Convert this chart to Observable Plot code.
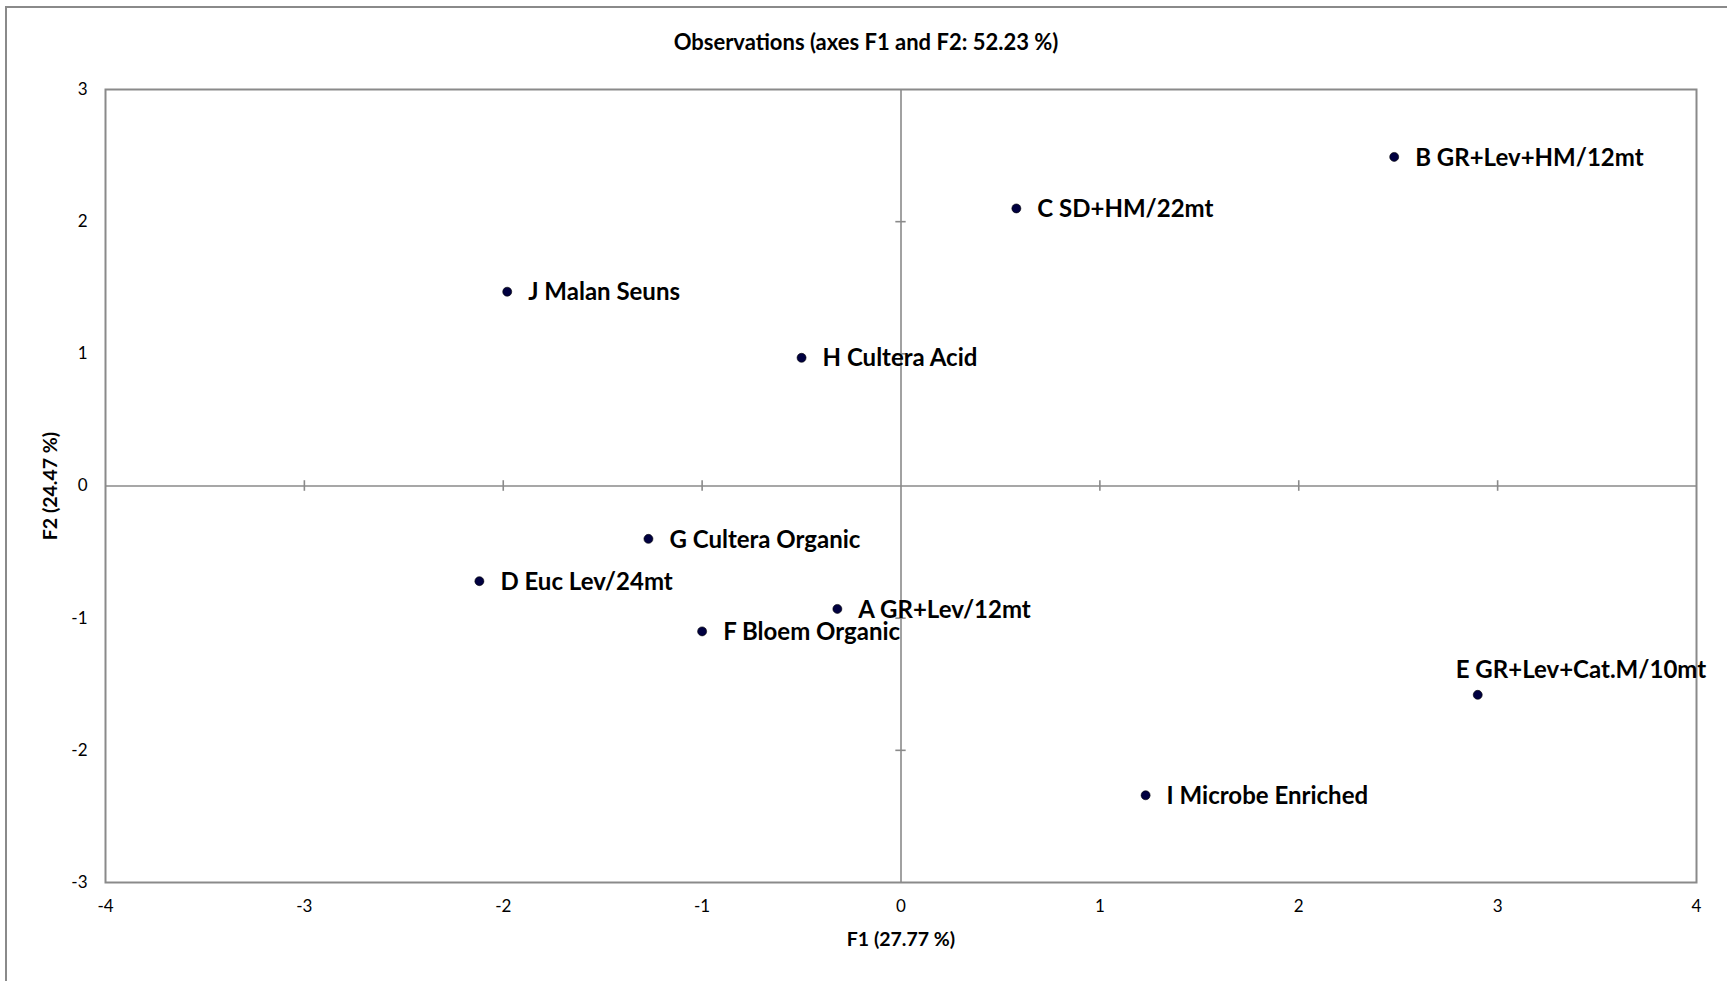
<!DOCTYPE html>
<html>
<head>
<meta charset="utf-8">
<script src="https://cdn.jsdelivr.net/npm/d3@7"></script>
<script src="https://cdn.jsdelivr.net/npm/@observablehq/plot@0.6"></script>
<style>
  html, body { margin: 0; padding: 0; background: #fff; overflow: hidden; }
  #page { position: relative; width: 1727px; height: 981px; }
  #border {
    position: absolute; left: 5px; top: 6px; width: 1900px; height: 1100px;
    border-left: 2px solid #8a8a8a; border-top: 2px solid #8a8a8a;
  }
  #title {
    position: absolute; left: 5px; top: 29px; width: 1722px; height: 26px;
    line-height: 26px; text-align: center;
    font-family: Lato, "Open Sans", sans-serif; font-weight: bold; font-size: 22px; color: #000;
  }
  #chart { position: absolute; left: 0; top: 70px; }
</style>
</head>
<body>
<div id="page">
  <div id="border"></div>
  <div id="title">Observations (axes F1 and F2: 52.23 %)</div>
  <div id="chart"></div>
</div>
<script>
// PCA observation scores on the first two factors
const names = [
  "A GR+Lev/12mt",
  "B GR+Lev+HM/12mt",
  "C SD+HM/22mt",
  "D Euc Lev/24mt",
  "E GR+Lev+Cat.M/10mt",
  "F Bloem Organic",
  "G Cultera Organic",
  "H Cultera Acid",
  "I Microbe Enriched",
  "J Malan Seuns"
];
const f1 = [-0.32, 2.48, 0.58, -2.12, 2.90, -1.00, -1.27, -0.50, 1.23, -1.98];
const f2 = [-0.93, 2.49, 2.10, -0.72, -1.58, -1.10, -0.40, 0.97, -2.34, 1.47];

const xTicks = [-4, -3, -2, -1, 0, 1, 2, 3, 4];
const yTicks = [-3, -2, -1, 0, 1, 2, 3];

const obs = names.map((name, i) => ({name, f1: f1[i], f2: f2[i]}));

// the one label drawn above its point instead of to its right
const aboveLabels = new Set(["E GR+Lev+Cat.M/10mt"]);

const axisGray = "#8a8a8a";
const labelFont = "Lato, 'Open Sans', sans-serif";

const chart = Plot.plot({
  width: 1727,
  height: 911,
  marginLeft: 105,
  marginRight: 31,
  marginTop: 19,
  marginBottom: 99,
  style: {fontFamily: labelFont, fontSize: "17px", color: "#000", background: "transparent"},
  x: {domain: [-4, 4]},
  y: {domain: [-3, 3]},
  marks: [
    Plot.ruleX([0], {stroke: axisGray, strokeWidth: 1.6}),
    Plot.ruleY([0], {stroke: axisGray, strokeWidth: 1.6}),
    // small cross ticks along the zero lines
    Plot.ruleX(xTicks.filter(d => d !== 0 && Math.abs(d) !== 4), {x: d => d, y1: -0.04, y2: 0.04, stroke: axisGray, strokeWidth: 1.6}),
    Plot.ruleY(yTicks.filter(d => d !== 0 && Math.abs(d) !== 3), {y: d => d, x1: -0.026, x2: 0.026, stroke: axisGray, strokeWidth: 1.6}),
    Plot.frame({stroke: axisGray, strokeWidth: 2}),
    Plot.axisX({
      ticks: xTicks, tickSize: 0, tickPadding: 17, tickFormat: d => String(d),
      label: "F1 (27.77 %)", labelAnchor: "center", labelArrow: "none", labelOffset: 63,
      fontSize: 17
    }),
    Plot.axisY({
      ticks: yTicks, tickSize: 0, tickPadding: 18, tickFormat: d => String(d),
      label: "F2 (24.47 %)", labelAnchor: "center", labelArrow: "none", labelOffset: 62,
      fontSize: 17
    }),
    Plot.dot(obs, {x: "f1", y: "f2", r: 4.5, fill: "#000040", stroke: "#000", strokeWidth: 0.6}),
    Plot.text(obs.filter(d => !aboveLabels.has(d.name)), {
      x: "f1", y: "f2", text: "name", textAnchor: "start", dx: 21, dy: 1,
      fontSize: 24, fontWeight: "bold", fill: "#000"
    }),
    Plot.text(obs.filter(d => aboveLabels.has(d.name)), {
      x: "f1", y: "f2", text: "name", textAnchor: "start", dx: -22, dy: -25,
      fontSize: 24, fontWeight: "bold", fill: "#000"
    })
  ]
});

// bold, slightly larger axis titles
chart.querySelectorAll("g[aria-label='x-axis label'] text, g[aria-label='y-axis label'] text")
  .forEach(t => { t.setAttribute("font-weight", "bold"); t.setAttribute("font-size", "19.5"); });

document.getElementById("chart").appendChild(chart);
</script>
</body>
</html>
